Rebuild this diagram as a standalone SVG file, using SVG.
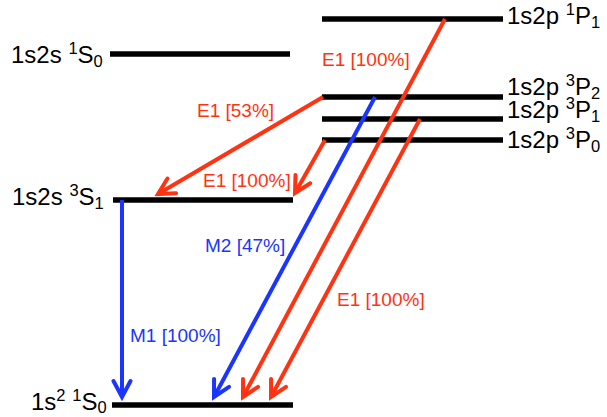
<svg xmlns="http://www.w3.org/2000/svg" width="607" height="417" viewBox="0 0 607 417">
<style>
.lvl{stroke:#000;stroke-width:5.5}
.lab{font-family:"Liberation Sans",Arial,sans-serif;font-size:24px;fill:#000}
.s{font-size:16.5px}
.r{stroke:#ff3311;stroke-width:4;fill:none}
.b{stroke:#1a35ff;stroke-width:4;fill:none}
.tr{font-family:"Liberation Sans",Arial,sans-serif;font-size:19px;fill:#ff3311}
.tb{font-family:"Liberation Sans",Arial,sans-serif;font-size:19px;fill:#1a35ff}
</style>
<defs>
<marker id="ar" markerUnits="userSpaceOnUse" viewBox="-20 -12 24 24" refX="0" refY="0" markerWidth="24" markerHeight="24" orient="auto">
<path d="M-16,-8.5 L0,0 L-16,8.5" fill="none" stroke="#ff3311" stroke-width="4" stroke-linejoin="miter" stroke-linecap="round"/>
</marker>
<marker id="ab" markerUnits="userSpaceOnUse" viewBox="-20 -12 24 24" refX="0" refY="0" markerWidth="24" markerHeight="24" orient="auto">
<path d="M-16,-8.5 L0,0 L-16,8.5" fill="none" stroke="#1a35ff" stroke-width="4" stroke-linejoin="miter" stroke-linecap="round"/>
</marker>
</defs>

<g id="lvl-1s2p-1P1">
<line class="lvl" x1="322" y1="19" x2="503" y2="19"/>
<text class="lab" x="507" y="24">1s2p <tspan class="s" dy="-9">1</tspan><tspan dy="9">P</tspan><tspan class="s" dy="4">1</tspan></text>
</g>
<g id="lvl-1s2p-3P2">
<line class="lvl" x1="322" y1="97" x2="503" y2="97"/>
<text class="lab" x="507" y="95">1s2p <tspan class="s" dy="-9">3</tspan><tspan dy="9">P</tspan><tspan class="s" dy="4">2</tspan></text>
</g>
<g id="lvl-1s2p-3P1">
<line class="lvl" x1="322" y1="119" x2="503" y2="119"/>
<text class="lab" x="507" y="118">1s2p <tspan class="s" dy="-9">3</tspan><tspan dy="9">P</tspan><tspan class="s" dy="4">1</tspan></text>
</g>
<g id="lvl-1s2p-3P0">
<line class="lvl" x1="322" y1="140" x2="503" y2="140"/>
<text class="lab" x="507" y="148">1s2p <tspan class="s" dy="-9">3</tspan><tspan dy="9">P</tspan><tspan class="s" dy="4">0</tspan></text>
</g>
<g id="lvl-1s2s-1S0">
<line class="lvl" x1="110" y1="54" x2="290" y2="54"/>
<text class="lab" x="11" y="63">1s2s <tspan class="s" dy="-9">1</tspan><tspan dy="9">S</tspan><tspan class="s" dy="4">0</tspan></text>
</g>
<g id="lvl-1s2s-3S1">
<line class="lvl" x1="113" y1="200" x2="293" y2="200"/>
<text class="lab" x="12" y="205">1s2s <tspan class="s" dy="-9">3</tspan><tspan dy="9">S</tspan><tspan class="s" dy="4">1</tspan></text>
</g>
<g id="lvl-1s2-1S0">
<line class="lvl" x1="112" y1="405" x2="293" y2="405"/>
<text class="lab" x="31" y="410">1s<tspan class="s" dy="-9">2</tspan><tspan dy="9"> </tspan><tspan class="s" dy="-9">1</tspan><tspan dy="9">S</tspan><tspan class="s" dy="3">0</tspan></text>
</g>

<g id="connectors">
<line class="r" x1="323" y1="97" x2="158" y2="194" marker-end="url(#ar)"/>
<line class="r" x1="325" y1="140" x2="295" y2="193" marker-end="url(#ar)"/>
<line class="b" x1="375" y1="97" x2="214" y2="397" marker-end="url(#ab)"/>
<line class="r" x1="445" y1="19" x2="243" y2="397" marker-end="url(#ar)"/>
<line class="r" x1="420" y1="119" x2="271" y2="397" marker-end="url(#ar)"/>
<line class="b" x1="122" y1="200" x2="122" y2="397" marker-end="url(#ab)"/>
</g>

<g id="labels">
<text class="tr" x="322" y="66">E1 [100%]</text>
<text class="tr" x="197" y="117">E1 [53%]</text>
<text class="tr" x="203" y="187">E1 [100%]</text>
<text class="tb" x="205" y="252">M2 [47%]</text>
<text class="tb" x="130" y="342">M1 [100%]</text>
<text class="tr" x="337" y="306">E1 [100%]</text>
</g>
</svg>
